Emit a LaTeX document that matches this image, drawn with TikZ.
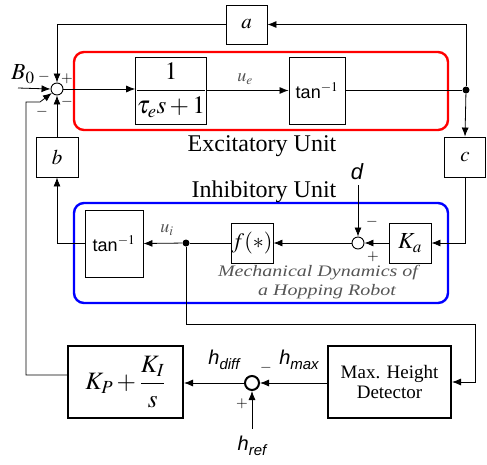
\documentclass[tikz,border=0pt]{standalone}
\usepackage{amsmath}
\usepackage{mathptmx}
\usepackage{fontspec}
\setmainfont{Liberation Serif}
\newfontfamily\arialf{Liberation Sans}
\usetikzlibrary{arrows.meta}
\definecolor{txtgray}{RGB}{85,85,85}
\tikzset{
  >={Latex[length=9pt,width=7pt]},
  every path/.style={line width=0.8pt},
  blk/.style={draw, line width=0.9pt, inner sep=0pt, font=\fontsize{21}{22}\selectfont},
  thkblk/.style={draw, line width=2pt, inner sep=0pt, font=\fontsize{20}{22}\selectfont},
  sumj/.style={draw, circle, fill=white, inner sep=0pt, minimum size=12pt, line width=0.9pt},
  dotn/.style={circle, fill=black, inner sep=0pt, minimum size=7pt},
  sgn/.style={font=\fontsize{15}{16}\selectfont, inner sep=0pt},
  unitlbl/.style={font=\fontsize{24}{26}\selectfont, inner sep=0pt},
  hlbl/.style={font=\arialf\itshape\fontsize{20}{20}\selectfont, inner sep=0pt},
  sublbl/.style={font=\fontsize{18}{18}\selectfont, inner sep=0pt, text=txtgray},
  mechlbl/.style={font=\itshape\fontsize{16}{16}\selectfont, inner sep=0pt, text=txtgray},
  unitbox/.style={rounded corners=10pt, line width=2.4pt}
}
\begin{document}
\begin{tikzpicture}[x=1pt,y=-1pt]
\useasboundingbox (0,0) rectangle (487,464);
% unit frames
\draw[unitbox, red] (74,52) rectangle (448,130);
\draw[unitbox, blue] (74,203) rectangle (448,303);
% nodes
\node[sumj] (sumA) at (57,89) {};
\node[blk, minimum width=41pt, minimum height=39pt] (a) at (246.5,24.5) {$a$};
\node[blk, minimum width=70pt, minimum height=67pt, font=\fontsize{25}{26}\selectfont] (E1) at (171,90.5) {$\dfrac{1}{\tau_e s+1}$};
\node[blk, minimum width=56pt, minimum height=67pt, font=\arialf\fontsize{18}{20}\selectfont] (tanE) at (317,90.5) {tan$^{-1}$};
\node[dotn] (dotE) at (466,90) {};
\node[blk, minimum width=41pt, minimum height=40pt] (c) at (465,157) {$c$};
\node[blk, minimum width=42pt, minimum height=40pt] (b) at (57,157) {$b$};
\node[blk, minimum width=58pt, minimum height=67pt, font=\arialf\fontsize{18}{20}\selectfont] (tanI) at (114,243.5) {tan$^{-1}$};
\node[dotn] (dotI) at (186,243) {};
\node[blk, minimum width=42pt, minimum height=40pt, font=\fontsize{22}{22}\selectfont] (f) at (252,243) {$f(*)$};
\node[sumj] (sumI) at (358,243) {};
\node[blk, minimum width=42pt, minimum height=40pt, font=\fontsize{23}{23}\selectfont] (Ka) at (410,243) {$K_a$};
\node[thkblk, minimum width=115pt, minimum height=72pt, font=\fontsize{25}{26}\selectfont] (PI) at (125.5,382) {$K_P+\dfrac{K_I}{s}$};
\node[sumj, minimum size=14pt, line width=2pt] (sumH) at (252,383) {};
\node[thkblk, minimum width=123pt, minimum height=72pt, align=center, font=\fontsize{19}{20}\selectfont] (MH) at (389.5,382) {Max. Height\\Detector};
% coordinates
\coordinate (b0in) at (18,88);
\coordinate (dtop) at (358,185);
\coordinate (hrefc) at (252,429);
\coordinate (r1) at (475,324);
\coordinate (l1) at (26,375);
\coordinate (l2) at (26,102);
\coordinate (l3) at (40,102);
% connectors
\draw (tanE.east |- dotE) -- (dotE);
\draw[->] (dotE) |- (a.east);
\draw[->] (dotE) -- (c.north);
\draw[->] (a.west) -| (sumA.north);
\draw[->] (sumA.east) -- (sumA -| E1.west);
\draw[->] (E1.east) -- (tanE.west);
\draw[->] (b0in) -- (sumA.west);
\draw[->] (b.north) -- (sumA.south);
\draw[->] (c.south) |- (Ka.east);
\draw[->] (Ka.west) -- (sumI.east);
\draw[->] (sumI.west) -- (f.east);
\draw (f.west) -- (dotI);
\draw[->] (dotI) -- (tanI.east);
\draw[->] (tanI.west) -| (b.south);
\draw[->] (dtop) -- (sumI.north);
\draw[->] (dotI) |- (r1) |- (MH.east);
\draw[->] (MH.west |- sumH) -- (sumH.east);
\draw[->] (sumH.west) -- (PI.east |- sumH);
\draw[->] (hrefc) -- (sumH.south);
\draw[->] (PI.west |- l1) -- (l1) -- (l2) -- (l3) -- (sumA);
% labels
\node[font=\fontsize{23}{24}\selectfont, inner sep=0pt] (B0) at (23,74) {$B_{\scriptstyle 0}$};
\node[sgn] (s1) at (44,77) {$-$};
\node[sgn] (s2) at (67,79) {$+$};
\node[sgn] (s3) at (67,102) {$-$};
\node[sgn] (s4) at (42,112) {$-$};
\node[sublbl] (ue) at (245,79) {$u_e$};
\node[sublbl] (ui) at (167,230) {$u_i$};
\node[unitlbl] (ex) at (262,146) {Excitatory Unit};
\node[unitlbl] (in) at (264,192) {Inhibitory Unit};
\node[mechlbl] (m1) at (318,273) {\scalebox{1.25}[1]{Mechanical Dynamics of}};
\node[mechlbl] (m2) at (327,292) {\scalebox{1.25}[1]{a Hopping Robot}};
\node[hlbl, font=\arialf\itshape\fontsize{22}{24}\selectfont] (dl) at (357,172) {d};
\node[sgn] (s5) at (372,222) {$-$};
\node[sgn] (s6) at (373,257) {$+$};
\node[hlbl] (hd) at (224,360) {h\raisebox{-5pt}{\fontsize{15}{15}\selectfont diff}};
\node[sgn] (s7) at (266,368) {$-$};
\node[hlbl] (hm) at (299,360) {h\raisebox{-5pt}{\fontsize{15}{15}\selectfont max}};
\node[sgn] (s8) at (242,404) {$+$};
\node[hlbl] (hr) at (252,446) {h\raisebox{-5pt}{\fontsize{15}{15}\selectfont ref}};
\end{tikzpicture}
\end{document}
